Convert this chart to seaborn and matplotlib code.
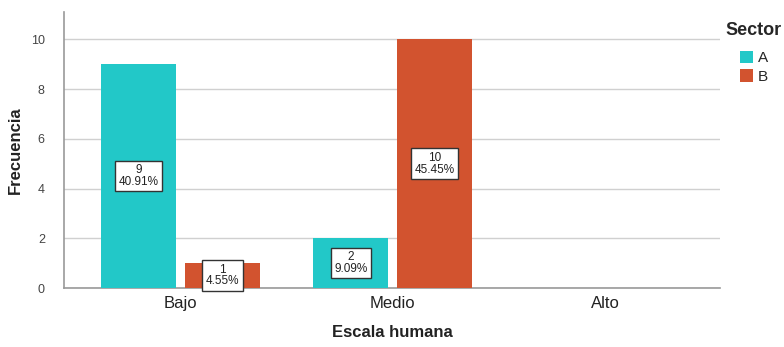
import pandas as pd
import numpy as np
import matplotlib.pyplot as plt
import seaborn as sns

categories = ["Bajo", "Medio", "Alto"]
sectors = ["A", "B"]
counts_a = [9, 2, 0]
counts_b = [1, 10, 0]
pct_a = ["40.91%", "9.09%", ""]
pct_b = ["4.55%", "45.45%", ""]

df = pd.DataFrame({
    "Escala humana": categories * 2,
    "Sector": ["A"] * 3 + ["B"] * 3,
    "Frecuencia": counts_a + counts_b,
    "pct": pct_a + pct_b,
})

sns.set_style("white")
plt.rcParams['font.family'] = ['Liberation Sans', 'DejaVu Sans']

fig = plt.figure(figsize=(7.84, 3.47), dpi=100)
ax = fig.add_axes([0.082, 0.170, 0.836, 0.795])

palette = {"A": "#22C8C8", "B": "#D2532F"}
sns.barplot(data=df, x="Escala humana", y="Frecuencia", hue="Sector",
            order=categories, hue_order=sectors, palette=palette,
            width=0.79, gap=0.11, saturation=1, ax=ax, zorder=3,
            linewidth=0, edgecolor="none")

# value labels
for cont, sec in zip(ax.containers, sectors):
    sub = df[df["Sector"] == sec].set_index("Escala humana").loc[categories]
    for bar, (n, p) in zip(cont, zip(sub["Frecuencia"], sub["pct"])):
        if n == 0:
            continue
        x = bar.get_x() + bar.get_width() / 2
        ax.text(x, n / 2, f"{n}\n{p}", ha="center", va="center", fontsize=8.5,
                linespacing=0.95, color="#222222", zorder=5,
                bbox=dict(boxstyle="square,pad=0.3", fc="white", ec="#333333", lw=1))

ax.set_ylim(0, 11.1)
ax.set_xlim(-0.547, 2.54)
ax.set_yticks([0, 2, 4, 6, 8, 10])
ax.yaxis.grid(True, color="#d0d0d0", lw=1, zorder=0)
ax.tick_params(axis="y", labelsize=9, labelcolor="#444444", length=0, pad=14)
ax.tick_params(axis="x", labelsize=12, labelcolor="#222222", length=0, pad=6)
for s in ["top", "right"]:
    ax.spines[s].set_visible(False)
for s in ["left", "bottom"]:
    ax.spines[s].set_color("#999999")
    ax.spines[s].set_linewidth(1.2)

ax.set_ylabel("Frecuencia", fontsize=12, fontweight="bold", color="#222222", labelpad=6)
ax.set_xlabel("Escala humana", fontsize=12, fontweight="bold", color="#222222", labelpad=10)

leg = ax.legend(title="Sector", loc="upper left", bbox_to_anchor=(1.0, 0.985),
                frameon=False, fontsize=11, title_fontsize=13,
                handlelength=0.9, handleheight=0.9, handletextpad=0.3,
                labelspacing=0.25, borderaxespad=0)
leg.get_title().set_fontweight("bold")
leg._legend_box.align = "center"
leg._legend_box.sep = 8

fig.savefig("out.png", dpi=100)
